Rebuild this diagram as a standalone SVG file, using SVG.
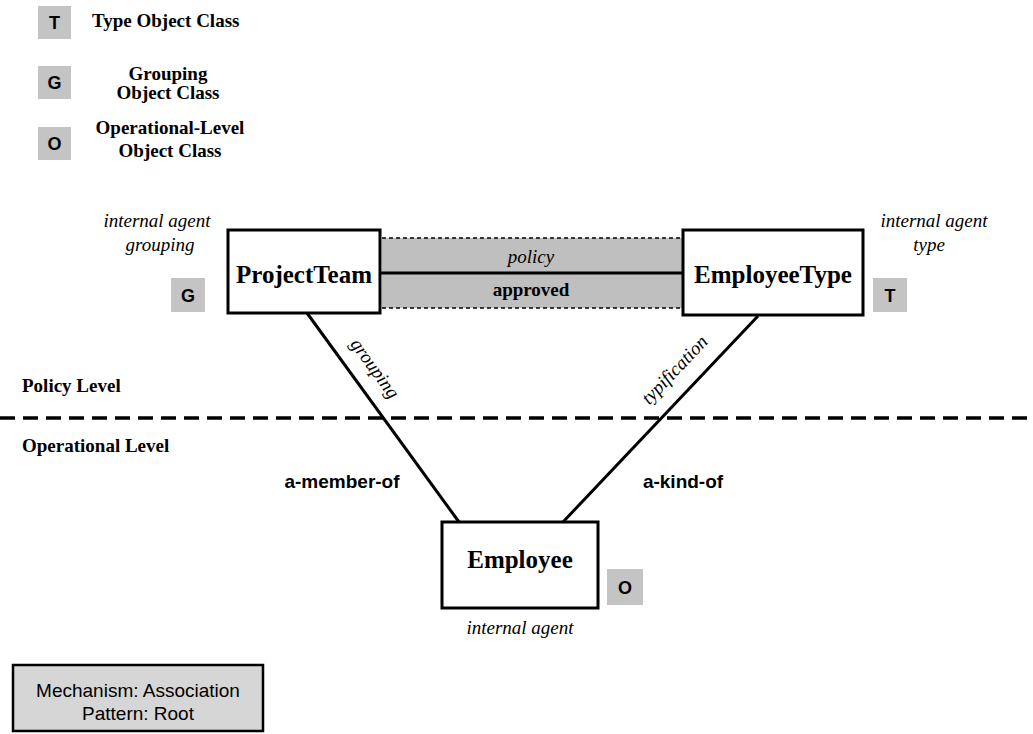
<svg xmlns="http://www.w3.org/2000/svg" width="1033" height="734" viewBox="0 0 1033 734">
  <style>
    .bg { fill: #ffffff; }
    .node { fill: #ffffff; stroke: #000000; stroke-width: 3; }
    .tag { fill: #c4c4c4; }
    .tagtxt { font-family: "Liberation Sans", Arial, sans-serif; font-weight: bold; font-size: 18px; fill: #000; text-anchor: middle; }
    .legtxt { font-family: "Liberation Serif", "Times New Roman", serif; font-weight: bold; font-size: 19px; fill: #000; }
    .name { font-family: "Liberation Serif", "Times New Roman", serif; font-weight: bold; font-size: 25px; fill: #000; text-anchor: middle; }
    .ital { font-family: "Liberation Serif", "Times New Roman", serif; font-style: italic; font-size: 19px; fill: #000; text-anchor: middle; }
    .bold { font-family: "Liberation Serif", "Times New Roman", serif; font-weight: bold; font-size: 19px; fill: #000; }
    .role { font-family: "Liberation Sans", Arial, sans-serif; font-weight: bold; font-size: 19px; fill: #000; text-anchor: middle; }
    .link { stroke: #000; stroke-width: 3; fill: none; }
    .bar { fill: #bfbfbf; }
    .thin { stroke: #000; stroke-width: 1.5; stroke-dasharray: 4 3; fill: none; }
    .mech { fill: #d6d6d6; stroke: #000; stroke-width: 2.5; }
    .mechtxt { font-family: "Liberation Sans", Arial, sans-serif; font-size: 19px; fill: #000; text-anchor: middle; }
  </style>

  <rect class="bg" x="0" y="0" width="1033" height="734"/>

  <!-- legend -->
  <g id="legend">
    <rect class="tag" x="38" y="6" width="33" height="33"/>
    <text class="tagtxt" x="54.5" y="29">T</text>
    <text class="legtxt" x="92" y="27">Type Object Class</text>

    <rect class="tag" x="38" y="66" width="33" height="33"/>
    <text class="tagtxt" x="54.5" y="89">G</text>
    <text class="legtxt" x="168" y="80" text-anchor="middle">Grouping</text>
    <text class="legtxt" x="168" y="99" text-anchor="middle">Object Class</text>

    <rect class="tag" x="38" y="127" width="33" height="33"/>
    <text class="tagtxt" x="54.5" y="150">O</text>
    <text class="legtxt" x="170" y="134" text-anchor="middle">Operational-Level</text>
    <text class="legtxt" x="170" y="157" text-anchor="middle">Object Class</text>
  </g>

  <!-- level divider -->
  <g id="levels">
    <text class="bold" x="22" y="392">Policy Level</text>
    <line x1="0" y1="418" x2="1033" y2="418" stroke="#000" stroke-width="3.5" stroke-dasharray="15 8"/>
    <text class="bold" x="22" y="452">Operational Level</text>
  </g>

  <!-- connectors -->
  <g id="connectors">
    <!-- policy association band -->
    <rect class="bar" x="382" y="238" width="301" height="70"/>
    <line class="thin" x1="382" y1="238" x2="683" y2="238"/>
    <line class="thin" x1="382" y1="308" x2="683" y2="308"/>
    <line class="link" x1="380" y1="273" x2="683" y2="273"/>
    <text class="ital" x="531" y="263">policy</text>
    <text class="bold" x="531" y="296" text-anchor="middle">approved</text>

    <!-- grouping link -->
    <line class="link" x1="307" y1="313" x2="459" y2="522"/>
    <text class="ital" transform="translate(370 372) rotate(54)">grouping</text>
    <text class="role" x="342" y="488">a-member-of</text>

    <!-- typification link -->
    <line class="link" x1="758" y1="316" x2="563" y2="522"/>
    <text class="ital" transform="translate(679 374) rotate(-46.5)">typification</text>
    <text class="role" x="683" y="488">a-kind-of</text>
  </g>

  <!-- nodes -->
  <g id="project-team">
    <rect class="node" x="228" y="230" width="152" height="83"/>
    <text class="name" x="304" y="283">ProjectTeam</text>
    <text class="ital" x="157" y="227">internal agent</text>
    <text class="ital" x="160" y="251">grouping</text>
    <rect class="tag" x="171" y="278" width="34" height="34"/>
    <text class="tagtxt" x="188" y="302">G</text>
  </g>

  <g id="employee-type">
    <rect class="node" x="683" y="230" width="180" height="85"/>
    <text class="name" x="773" y="283">EmployeeType</text>
    <text class="ital" x="934" y="227">internal agent</text>
    <text class="ital" x="929" y="251">type</text>
    <rect class="tag" x="873" y="278" width="34" height="34"/>
    <text class="tagtxt" x="890" y="302">T</text>
  </g>

  <g id="employee">
    <rect class="node" x="442" y="522" width="156" height="86"/>
    <text class="name" x="520" y="568">Employee</text>
    <text class="ital" x="520" y="634">internal agent</text>
    <rect class="tag" x="607" y="569" width="36" height="36"/>
    <text class="tagtxt" x="625" y="594">O</text>
  </g>

  <!-- pattern caption -->
  <g id="caption">
    <rect class="mech" x="13" y="665" width="250" height="66"/>
    <text class="mechtxt" x="138" y="697">Mechanism: Association</text>
    <text class="mechtxt" x="138" y="720">Pattern: Root</text>
  </g>
</svg>
